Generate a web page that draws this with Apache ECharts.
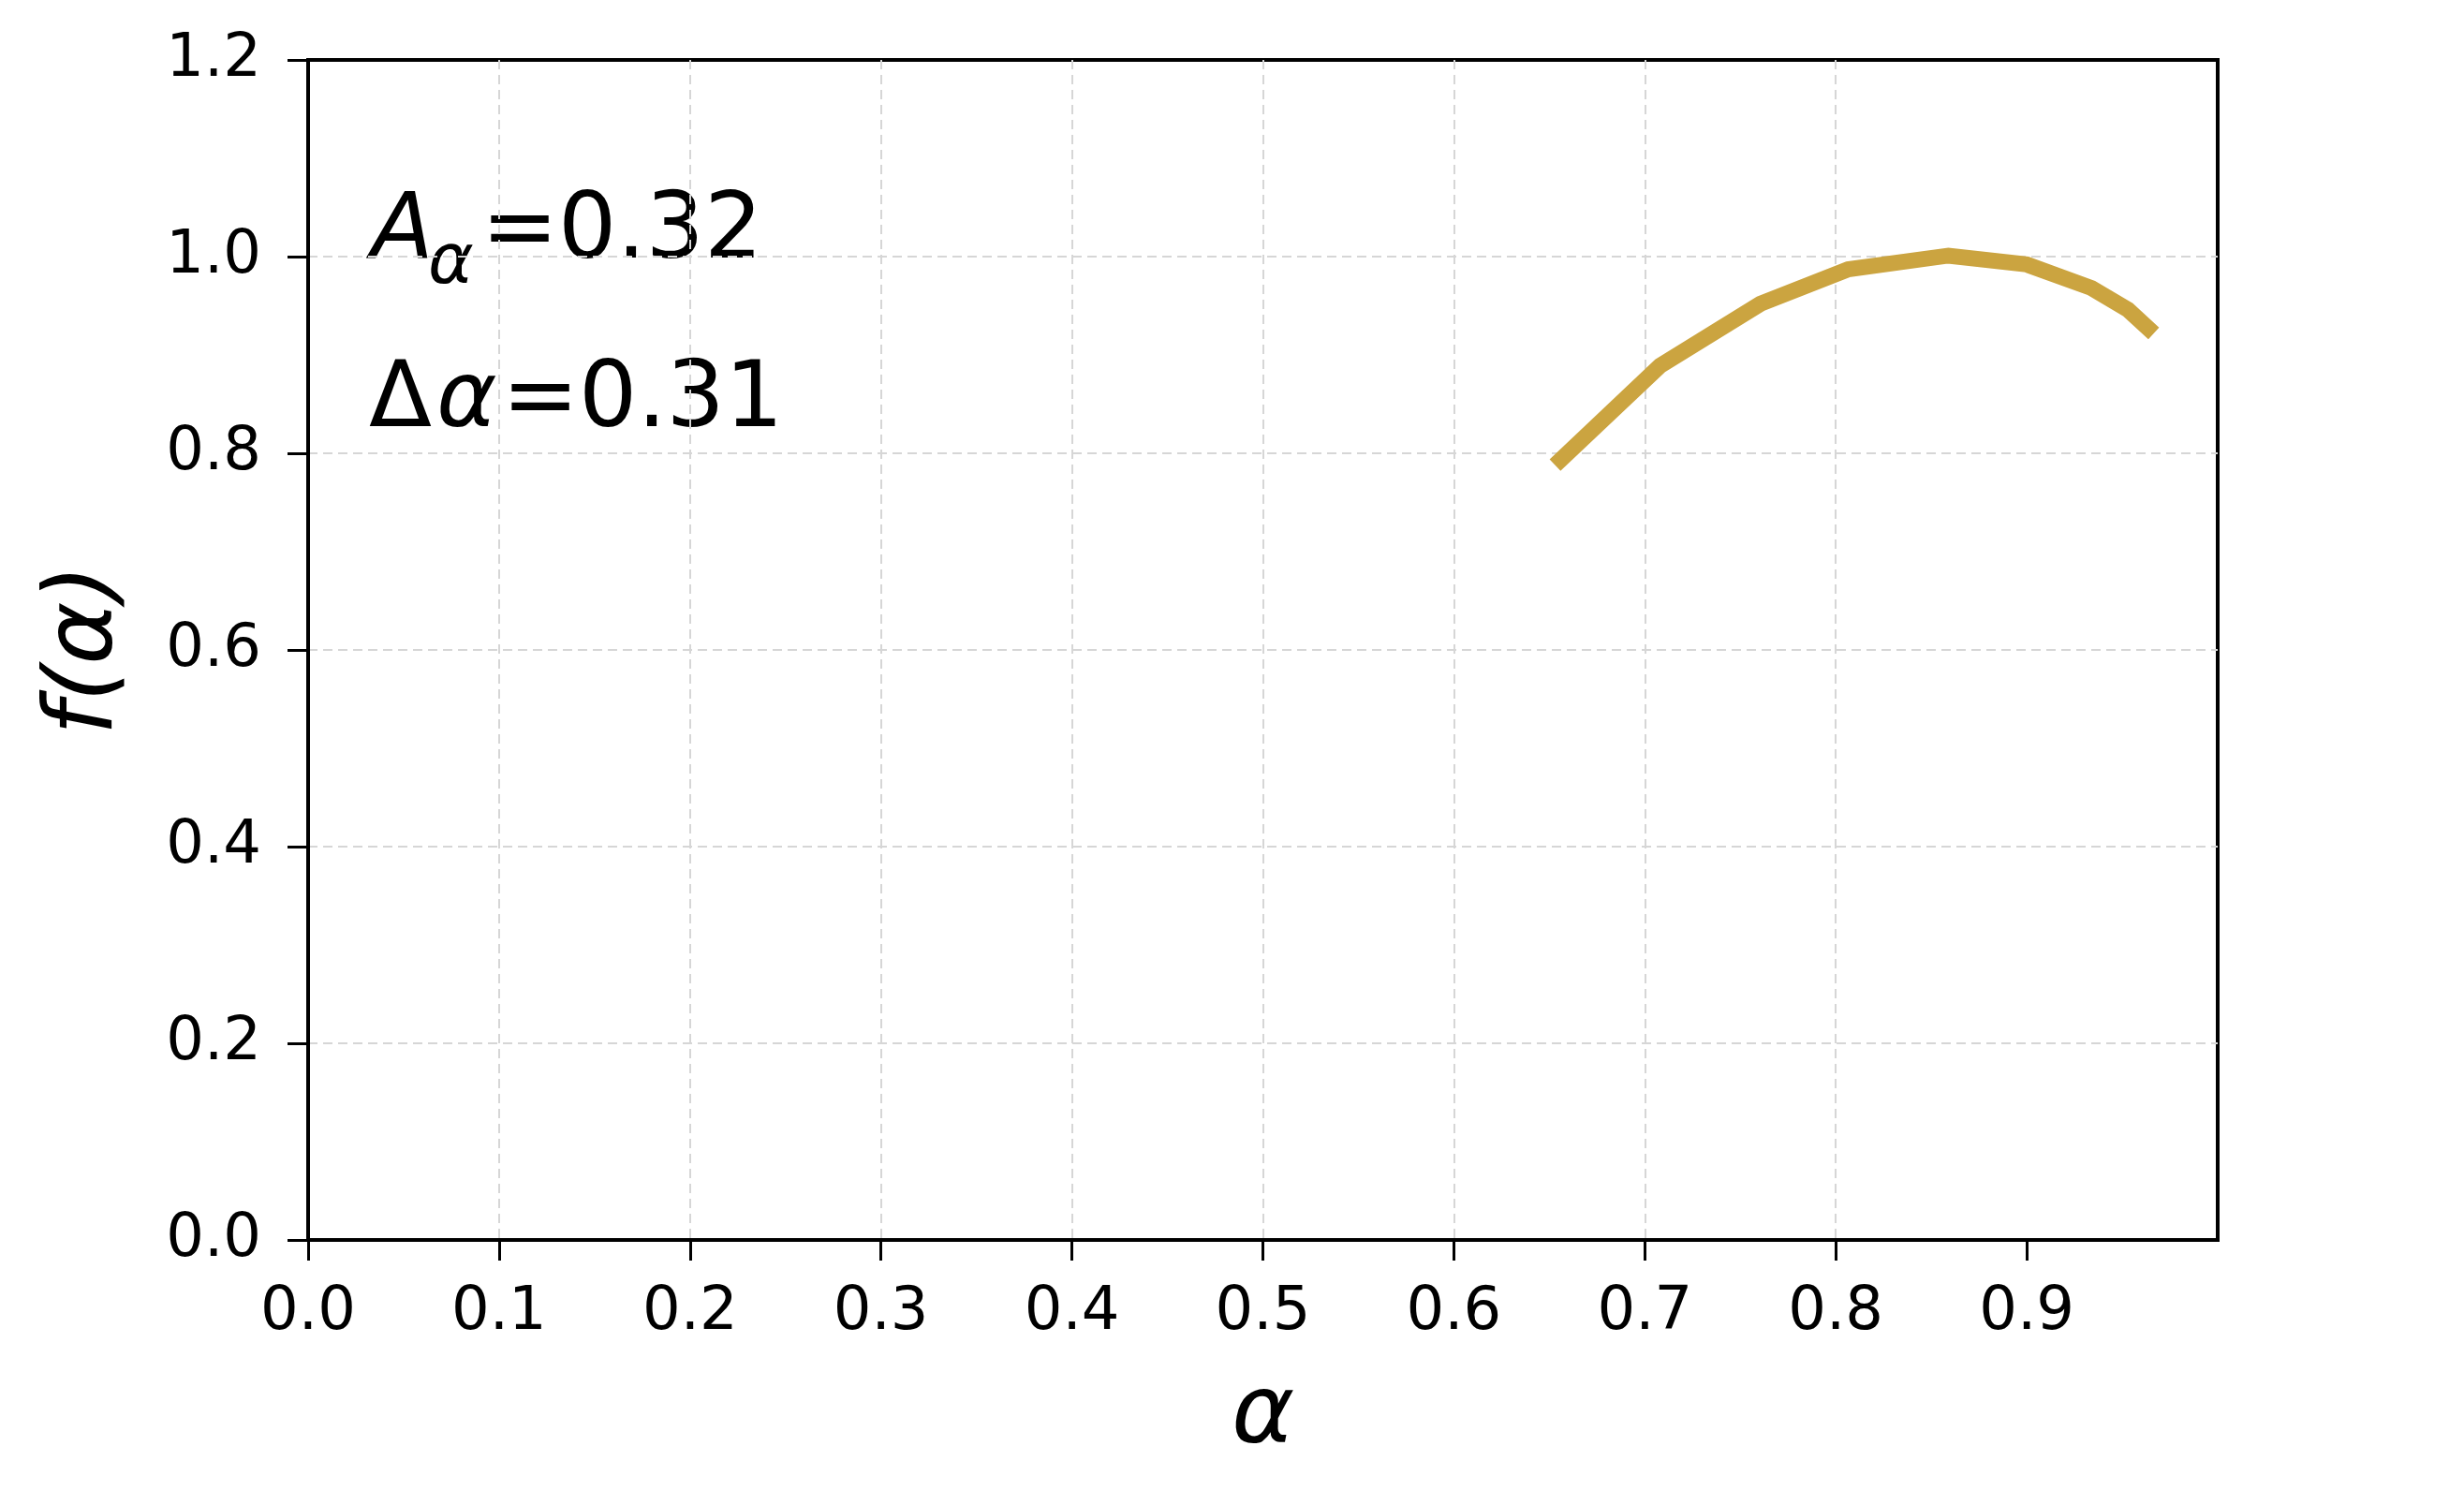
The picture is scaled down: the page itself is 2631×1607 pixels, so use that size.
<!DOCTYPE html>
<html>
<head>
<meta charset="utf-8">
<script src="https://cdn.jsdelivr.net/npm/echarts@6/dist/echarts.min.js"></script>
<style>
  html, body { margin: 0; padding: 0; background: #fff; }
  #chart { width: 2631px; height: 1607px; }
</style>
</head>
<body>
<div id="chart"></div>
<script>
// curve
const alphaVals = [0.653, 0.708, 0.7605, 0.8065, 0.859, 0.900, 0.934, 0.953, 0.9665];
const fVals = [0.788, 0.889, 0.952, 0.987, 1.001, 0.992, 0.968, 0.946, 0.922];
const xTicks = [0, 0.1, 0.2, 0.3, 0.4, 0.5, 0.6, 0.7, 0.8, 0.9];
const areaText = '0.32';
const widthText = '0.31';

const font = 'DejaVu Sans';
let chart = echarts.init(document.getElementById('chart'));

let points = alphaVals.map(function (a, i) { return [a, fVals[i]]; });

let gridLine = {
    show: true,
    showMinLine: false,
    showMaxLine: false,
    lineStyle: { color: '#d6d6d6', width: 2, type: [10, 6] }
};

let option = {
    backgroundColor: '#fff',
    animation: false,
    grid: {
        left: 329, right: 263, top: 64, bottom: 283,
        show: true, borderColor: '#000', borderWidth: 4, backgroundColor: 'transparent'
    },
    xAxis: {
        type: 'value', min: 0, max: 1, interval: 0.1,
        name: 'α', nameLocation: 'middle', nameGap: 138,
        nameTextStyle: { fontFamily: font, fontSize: 102, fontStyle: 'italic', color: '#000' },
        axisLine: { show: true, onZero: false, lineStyle: { color: '#000', width: 4 } },
        axisTick: { show: true, length: 22, lineStyle: { color: '#000', width: 3 }, customValues: xTicks },
        axisLabel: {
            fontFamily: font, fontSize: 64, color: '#000', margin: 46,
            customValues: xTicks,
            formatter: function (v) { return v.toFixed(1); }
        },
        splitLine: gridLine
    },
    yAxis: {
        type: 'value', min: 0, max: 1.2, interval: 0.2,
        name: 'f(α)', nameLocation: 'middle', nameGap: 186,
        nameTextStyle: { fontFamily: font, fontSize: 102, fontStyle: 'italic', color: '#000' },
        axisLine: { show: true, onZero: false, lineStyle: { color: '#000', width: 4 } },
        axisTick: { show: true, length: 22, lineStyle: { color: '#000', width: 3 } },
        axisLabel: {
            fontFamily: font, fontSize: 64, color: '#000', margin: 50,
            formatter: function (v) { return v.toFixed(1); }
        },
        splitLine: gridLine
    },
    series: [{
        type: 'line',
        data: points,
        showSymbol: false,
        smooth: false,
        lineStyle: { color: '#CBA440', width: 17, cap: 'butt', join: 'miter' },
        z: 5
    }],
    graphic: [
        { type: 'text', left: 396, top: 201, style: { text: 'A', font: 'italic 98px "DejaVu Sans"', fill: '#000' } },
        { type: 'text', left: 457, top: 246, style: { text: 'α', font: 'italic 74px "DejaVu Sans"', fill: '#000' } },
        { type: 'text', left: 514, top: 201, style: { text: '=' + areaText, font: '98px "DejaVu Sans"', fill: '#000' } },
        { type: 'text', left: 394, top: 381, style: { text: 'Δ', font: '98px "DejaVu Sans"', fill: '#000' } },
        { type: 'text', left: 466, top: 381, style: { text: 'α', font: 'italic 98px "DejaVu Sans"', fill: '#000' } },
        { type: 'text', left: 536, top: 381, style: { text: '=' + widthText, font: '98px "DejaVu Sans"', fill: '#000' } }
    ]
};
chart.setOption(option);
</script>
</body>
</html>
